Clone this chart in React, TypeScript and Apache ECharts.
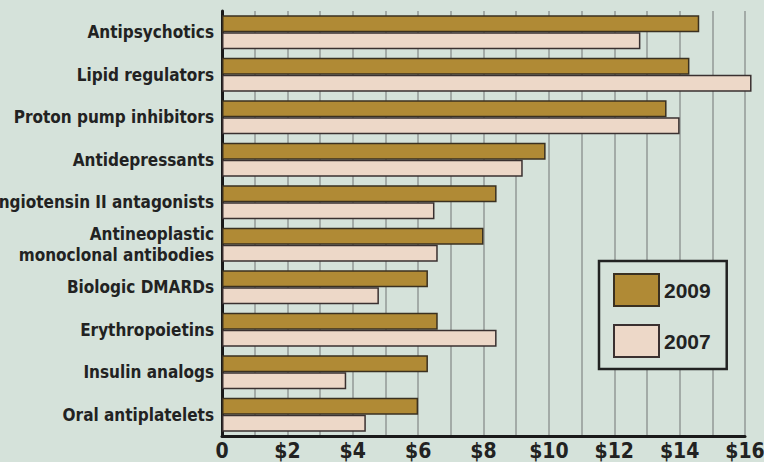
import React, { useEffect, useRef } from "react";
import * as echarts from "echarts";

const categories = [
  "Antipsychotics",
  "Lipid regulators",
  "Proton pump inhibitors",
  "Antidepressants",
  "Angiotensin II antagonists",
  "Antineoplastic\nmonoclonal antibodies",
  "Biologic DMARDs",
  "Erythropoietins",
  "Insulin analogs",
  "Oral antiplatelets",
];
const values2009 = [14.6, 14.3, 13.6, 9.9, 8.4, 8.0, 6.3, 6.6, 6.3, 6.0];
const values2007 = [12.8, 16.2, 14.0, 9.2, 6.5, 6.6, 4.8, 8.4, 3.8, 4.4];
const seriesNames = ["2009", "2007"];

const FONT = "'Liberation Sans Narrow', 'DejaVu Sans Condensed', 'Roboto Condensed', 'Arial Narrow', sans-serif";

export default function App() {
  const ref = useRef<HTMLDivElement>(null);
  useEffect(() => {
    document.body.style.margin = "0";
    const chart = echarts.init(ref.current!, undefined, { renderer: "svg" });
    chart.setOption({
      animation: false,
      backgroundColor: "#D5E2DA",
      grid: { left: 222, right: 19, top: 11, bottom: 26, containLabel: false, outerBoundsMode: "none" },
      legend: {
        orient: "vertical",
        left: 599,
        top: 261,
        padding: [12, 16, 11, 14],
        itemWidth: 45,
        itemHeight: 32,
        itemGap: 17,
        backgroundColor: "#D5E2DA",
        borderColor: "#222",
        borderWidth: 2.5,
        icon: "rect",
        data: seriesNames,
        textStyle: { fontSize: 21, fontWeight: "bold", color: "#222", fontFamily: "'Liberation Sans', Arial, sans-serif" },
      },
      xAxis: {
        type: "value",
        min: 0,
        max: 16,
        interval: 1,
        axisLine: { show: true, lineStyle: { color: "#1a1a1a", width: 3 } },
        axisTick: { show: false },
        splitLine: { show: true, lineStyle: { color: "#A3ABA7", width: 2 } },
        axisLabel: {
          margin: 4,
          fontSize: 21,
          fontWeight: "bold",
          color: "#222",
          fontFamily: FONT,
          formatter: (v: number) => (v === 0 ? "0" : v % 2 === 0 ? "$" + v : ""),
        },
      },
      yAxis: {
        type: "category",
        data: categories,
        inverse: true,
        axisLine: { show: true, onZero: false, lineStyle: { color: "#1a1a1a", width: 3 } },
        axisTick: { show: false },
        splitLine: { show: false },
        axisLabel: {
          margin: 8,
          fontSize: 17,
          lineHeight: 21,
          fontWeight: "bold",
          color: "#222",
          fontFamily: FONT,
          align: "right",
        },
      },
      series: [
        {
          name: seriesNames[0],
          type: "bar",
          data: values2009,
          barGap: "0%",
          barCategoryGap: "20%",
          clip: false,
          itemStyle: { color: "#B08A35", borderColor: "#3a3020", borderWidth: 1.5 },
        },
        {
          name: seriesNames[1],
          type: "bar",
          data: values2007,
          barGap: "0%",
          barCategoryGap: "20%",
          clip: false,
          itemStyle: { color: "#EDD8C8", borderColor: "#3a3030", borderWidth: 1.5 },
        },
      ],
    });
    return () => chart.dispose();
  }, []);
  return <div ref={ref} style={{ width: 764, height: 462 }} />;
}
